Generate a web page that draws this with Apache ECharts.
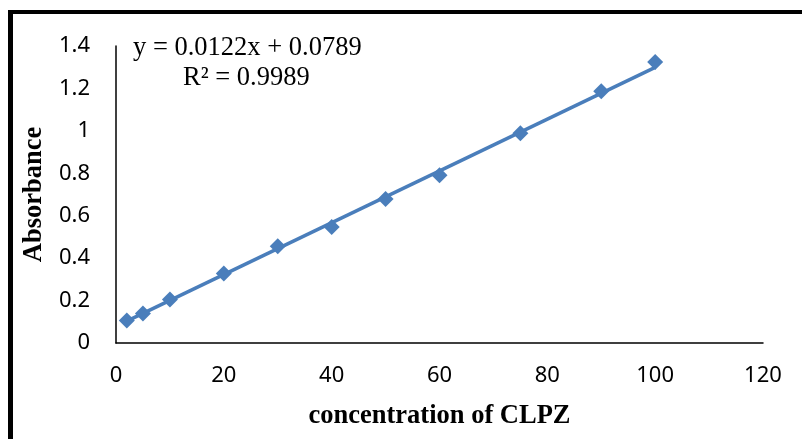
<!DOCTYPE html>
<html>
<head>
<meta charset="utf-8">
<script src="https://cdn.jsdelivr.net/npm/echarts@6/dist/echarts.min.js"></script>
<style>
  html, body { margin: 0; padding: 0; background: #fff; }
  #chart { width: 802px; height: 439px; }
</style>
</head>
<body>
<div id="chart"></div>
<script>
// calibration points
const concentration = [2, 5, 10, 20, 30, 40, 50, 60, 75, 90, 100];
const absorbance = [0.106, 0.139, 0.205, 0.328, 0.456, 0.547, 0.679, 0.791, 0.989, 1.187, 1.324];
// linear trendline ends (y = 0.0122x + 0.0789)
const trendX = [2, 100];
const trendY = [0.1033, 1.2989];
const xTicks = [0, 20, 40, 60, 80, 100, 120];
const yTicks = [0, 0.2, 0.4, 0.6, 0.8, 1, 1.2, 1.4];

const blue = '#4a7ebb';
const serif = '"Liberation Serif", "Times New Roman", serif';
const sans = '"Noto Sans", "Open Sans", sans-serif';

const chart = echarts.init(document.getElementById('chart'), null, { renderer: 'canvas' });

chart.setOption({
  backgroundColor: '#fff',
  animation: false,
  grid: { left: 116, right: 39, top: 46, bottom: 96 },
  xAxis: {
    type: 'value',
    min: xTicks[0], max: xTicks[xTicks.length - 1], interval: 20,
    name: 'concentration of CLPZ',
    nameLocation: 'middle', nameGap: 60,
    nameTextStyle: { fontFamily: serif, fontWeight: 'bold', fontSize: 26.5, color: '#000' },
    axisLine: { lineStyle: { color: '#000', width: 1.5 } },
    axisTick: { show: false },
    splitLine: { show: false },
    axisLabel: { color: '#000', fontFamily: sans, fontSize: 22, margin: 22 },
  },
  yAxis: {
    type: 'value',
    min: yTicks[0], max: yTicks[yTicks.length - 1], interval: 0.2,
    name: 'Absorbance',
    nameLocation: 'middle', nameGap: 66,
    nameTextStyle: { fontFamily: serif, fontWeight: 'bold', fontSize: 26.5, color: '#000' },
    axisLine: { show: true, lineStyle: { color: '#000', width: 1.5 } },
    axisTick: { show: false },
    splitLine: { show: false },
    axisLabel: {
      color: '#000', fontFamily: sans, fontSize: 22, margin: 26,
      formatter: v => String(Math.round(v * 10) / 10),
    },
  },
  series: [
    {
      type: 'line',
      data: trendX.map((x, i) => [x, trendY[i]]),
      symbol: 'none',
      lineStyle: { color: blue, width: 3.5 },
      z: 2,
    },
    {
      type: 'scatter',
      data: concentration.map((x, i) => [x, absorbance[i]]),
      symbol: 'diamond',
      symbolSize: [16, 16],
      itemStyle: { color: blue, opacity: 1 },
      z: 3,
    },
  ],
  graphic: [
    // outer frame, only top and left edges fall inside the picture
    { type: 'line', shape: { x1: 8, y1: 12, x2: 802, y2: 12 }, style: { stroke: '#000', lineWidth: 4 } },
    { type: 'line', shape: { x1: 10.5, y1: 10, x2: 10.5, y2: 439 }, style: { stroke: '#000', lineWidth: 5 } },
    {
      type: 'text', left: 133, top: 35,
      style: { text: 'y = 0.0122x + 0.0789', font: '26.5px ' + serif, fill: '#000' },
    },
    {
      type: 'text', left: 183, top: 65,
      style: { text: 'R² = 0.9989', font: '26.5px ' + serif, fill: '#000' },
    },
  ],
});
</script>
</body>
</html>
